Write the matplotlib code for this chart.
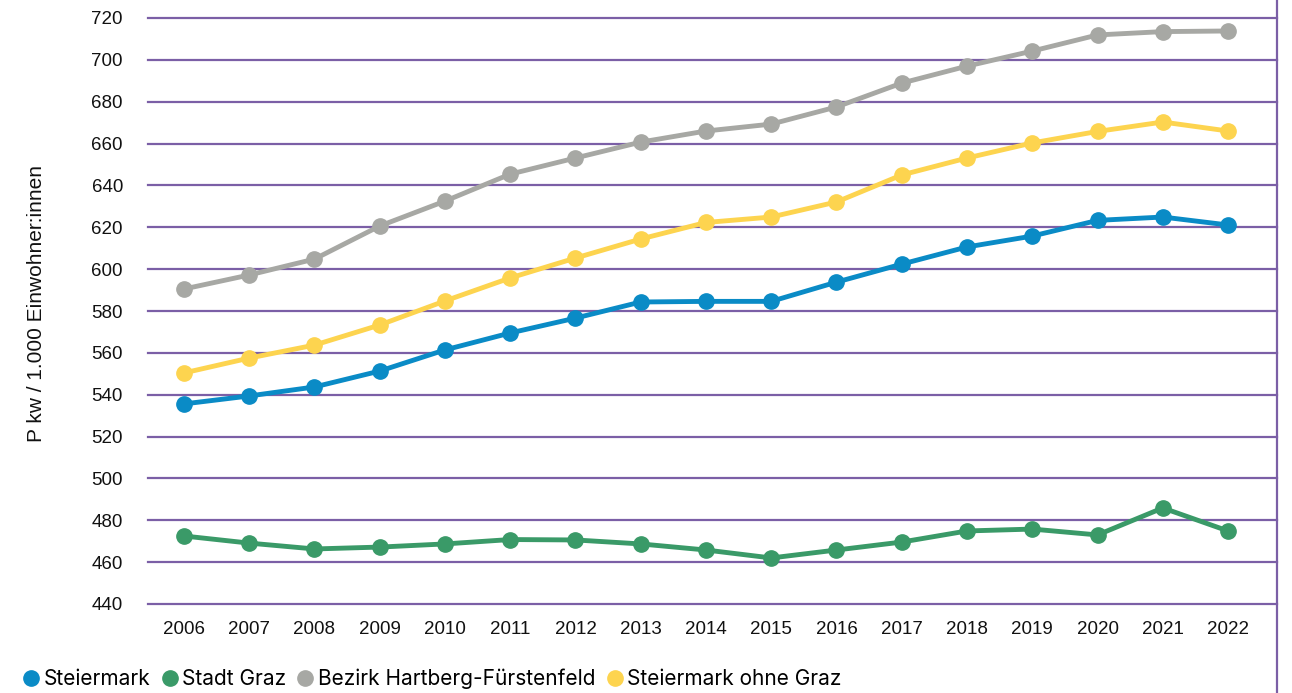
import matplotlib.pyplot as plt
from matplotlib.lines import Line2D

years = ['2006', '2007', '2008', '2009', '2010', '2011', '2012', '2013', '2014',
         '2015', '2016', '2017', '2018', '2019', '2020', '2021', '2022']

steiermark = [535.6, 539.4, 543.7, 551.3, 561.4, 569.5, 576.6, 584.3, 584.6,
              584.6, 593.8, 602.4, 610.6, 615.8, 623.3, 624.9, 621.1]
stadt_graz = [472.5, 469.1, 466.3, 467.2, 468.7, 470.8, 470.6, 468.7, 465.8,
              462.0, 465.8, 469.6, 474.9, 475.8, 473.0, 485.9, 474.9]
hartberg = [590.5, 597.2, 604.8, 620.6, 632.5, 645.4, 653.1, 660.7, 666.0,
            669.3, 677.5, 688.9, 697.0, 704.2, 711.9, 713.5, 713.8]
ohne_graz = [550.4, 557.5, 563.7, 573.3, 584.8, 595.8, 605.3, 614.4, 622.3,
             624.9, 632.1, 645.0, 653.1, 660.3, 665.8, 670.3, 666.0]

labels = ['Steiermark', 'Stadt Graz', 'Bezirk Hartberg-Fürstenfeld', 'Steiermark ohne Graz']
colors = ['#0a8bc6', '#3a9a68', '#a7a8a4', '#fdd44f']
grid_col = '#7b5fa6'

plt.rcParams['font.family'] = ['Liberation Sans', 'DejaVu Sans']

fig = plt.figure(figsize=(12.92, 6.93), dpi=100)
ax = fig.add_axes([148 / 1292, 89 / 693, 1129 / 1292, 586 / 693])

x = list(range(len(years)))
for series, c in zip([steiermark, stadt_graz, hartberg, ohne_graz], colors):
    ax.plot(x, series, color=c, lw=3.5, marker='o', markersize=11, zorder=3)

ax.set_xlim(-0.55, 16.75)
ax.set_ylim(440, 720)
ax.set_yticks(range(440, 721, 20))
ax.set_xticks(x)
ax.set_xticklabels(years)
ax.yaxis.grid(True, color=grid_col, lw=1.6)
for gl in ax.get_ygridlines():
    gl.set_clip_on(False)
ax.set_axisbelow(True)
for s in ax.spines.values():
    s.set_visible(False)
ax.tick_params(axis='both', length=0, labelsize=13.5, colors='#111111')
ax.tick_params(axis='y', pad=18)
ax.tick_params(axis='x', pad=12)

fig.text(37 / 1292, 1 - 303 / 693, 'P kw / 1.000 Einwohner:innen', rotation=90,
         ha='center', va='center', fontsize=15, color='#111111')

# right frame line
fig.add_artist(Line2D([1277 / 1292, 1277 / 1292], [0, 1], transform=fig.transFigure,
                      color=grid_col, lw=1.6))

handles = [Line2D([], [], color=c, marker='o', linestyle='none', markersize=11) for c in colors]
fig.legend(handles, labels, loc='center left', bbox_to_anchor=(25 / 1292, 1 - 679 / 693),
           ncol=4, frameon=False, handlelength=0.6, handletextpad=0.3, columnspacing=0.62,
           borderaxespad=0, borderpad=0, prop={'family': 'Inter', 'size': 15})

fig.savefig('out.png', dpi=100)
